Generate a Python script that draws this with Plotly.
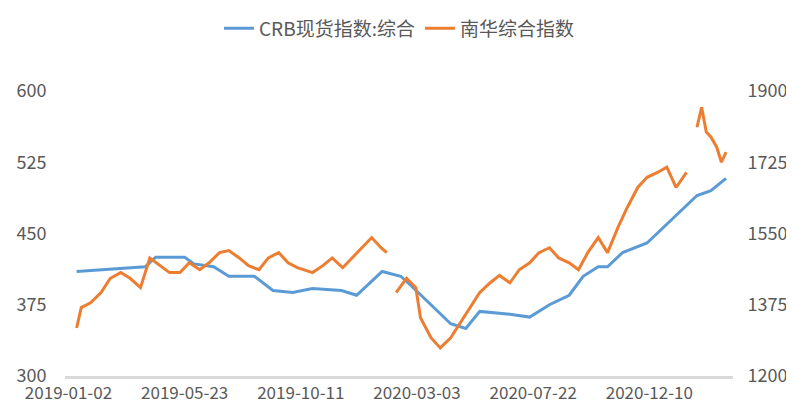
import plotly.graph_objects as go

crb_day = [7,40,66,75,100,108,125,138,160,176,193,210,235,248,270,286,295,312,329,342,354,380,397,414,431,443,456,464,477,498,515,541,553,566]
crb_val = [410,413,415,425,425,418,415,405,405,390,388,392,390,385,410,405,395,375,355,350,368,365,362,375,385,405,415,415,430,440,460,490,495,508]

nh_day = [7,11,19,28,36,45,53,62,70,79,87,96,104,113,121,130,138,147,155,164,172,181,189,197,210,219,227,236,244,253,261,269,274,278,282,291,299,303,312,320,329,337,346,354,363,371,380,388,397,405,414,422,431,439,447,456,464,473,481,490,498,507,515,523,532,536,541,545,549,553,558,562,566]
nh_val = [1318,1368,1380,1405,1440,1454,1440,1417,1490,1471,1454,1454,1478,1461,1478,1503,1508,1490,1471,1461,1490,1503,1478,1466,1454,1471,1490,1466,1490,1515,1540,1515,1503,None,1405,1440,1417,1343,1294,1269,1294,1330,1368,1405,1429,1447,1429,1461,1478,1503,1515,1490,1478,1461,1503,1540,1503,1565,1614,1663,1688,1700,1713,1663,1700,None,1811,1860,1799,1787,1762,1725,1750]

tick_pos = [0,100,200,300,400,500]
tick_text = ["2019-01-02","2019-05-23","2019-10-11","2020-03-03","2020-07-22","2020-12-10"]

fig = go.Figure()
fig.add_trace(go.Scatter(x=crb_day, y=crb_val, name="CRB现货指数:综合", mode="lines",
                         line=dict(color="#5B9BD5", width=3)))
fig.add_trace(go.Scatter(x=nh_day, y=nh_val, name="南华综合指数", mode="lines", yaxis="y2",
                         line=dict(color="#ED7D31", width=3), connectgaps=False))
font = dict(family="Noto Sans CJK SC", size=18, color="#595959")
fig.update_layout(
    width=794, height=408, margin=dict(l=57, r=69, t=83, b=40, autoexpand=False),
    plot_bgcolor="white", paper_bgcolor="white", font=font,
    legend=dict(orientation="h", x=0.5, xanchor="center", y=1.22, yanchor="middle",
                font=dict(size=19)),
    xaxis=dict(range=[-3, 572], tickvals=tick_pos, ticktext=tick_text, showgrid=False,
               showline=True, linecolor="#d9d9d9", linewidth=3, ticks="", zeroline=False,
               tickfont=dict(size=17)),
    yaxis=dict(range=[300, 600], tickvals=[300,375,450,525,600], showgrid=False, zeroline=False,
               ticks="outside", ticklen=14, tickcolor="white"),
    yaxis2=dict(range=[1200, 1900], tickvals=[1200,1375,1550,1725,1900], overlaying="y",
                side="right", showgrid=False, zeroline=False,
                ticks="outside", ticklen=10, tickcolor="white"),
)
fig.write_html("out.html")
